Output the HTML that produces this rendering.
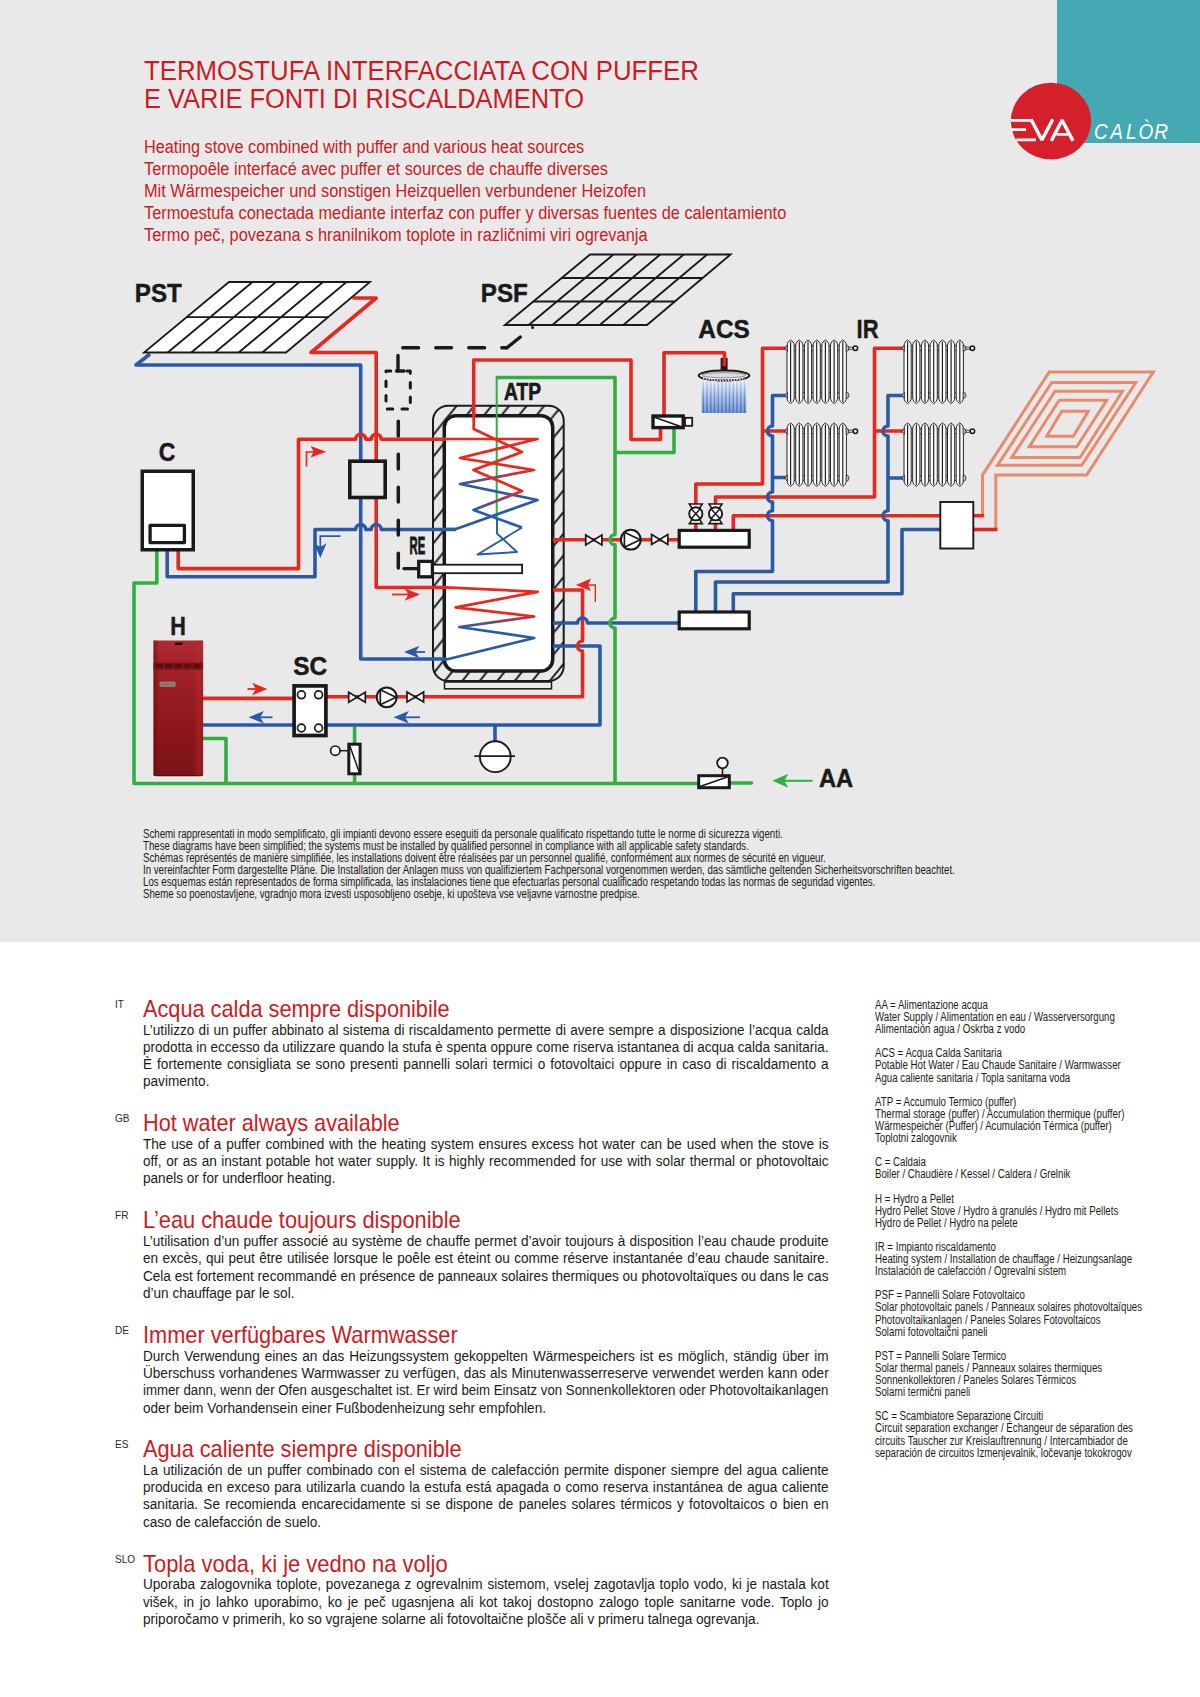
<!DOCTYPE html>
<html><head><meta charset="utf-8"><title>Termostufa interfacciata con puffer</title>
<style>
html,body{margin:0;padding:0;}
body{width:1200px;height:1697px;position:relative;background:#fff;font-family:"Liberation Sans", sans-serif;overflow:hidden;}
.top{position:absolute;left:0;top:0;width:1200px;height:942px;background:#e9e9e9;}
.teal{position:absolute;left:1057px;top:0;width:143px;height:143px;background:#45a9b4;}
.t{position:absolute;white-space:nowrap;line-height:1;transform-origin:0 0;}
svg.d{position:absolute;left:0;top:0;}
</style></head><body>
<div class="top"></div>
<div class="teal"></div>
<svg class="d" width="1200" height="1697" viewBox="0 0 1200 1697" font-family="Liberation Sans, sans-serif">
<defs>
<linearGradient id="gA" x1="0" y1="439" x2="0" y2="529" gradientUnits="userSpaceOnUse"><stop offset="0" stop-color="#e8281f"/><stop offset="0.35" stop-color="#e8281f"/><stop offset="0.5" stop-color="#2a5aa6"/><stop offset="1" stop-color="#2a5aa6"/></linearGradient>
<linearGradient id="gB" x1="0" y1="429" x2="0" y2="555" gradientUnits="userSpaceOnUse"><stop offset="0" stop-color="#e8281f"/><stop offset="0.5" stop-color="#e8281f"/><stop offset="0.64" stop-color="#2a5aa6"/><stop offset="1" stop-color="#2a5aa6"/></linearGradient>
<linearGradient id="gC" x1="0" y1="587" x2="0" y2="659" gradientUnits="userSpaceOnUse"><stop offset="0" stop-color="#e8281f"/><stop offset="0.4" stop-color="#e8281f"/><stop offset="0.55" stop-color="#2a5aa6"/><stop offset="1" stop-color="#2a5aa6"/></linearGradient>
<linearGradient id="gStoveV" x1="0" y1="0" x2="0" y2="1"><stop offset="0" stop-color="#ad2a32"/><stop offset="0.3" stop-color="#9e1f26"/><stop offset="0.65" stop-color="#8c171b"/><stop offset="1" stop-color="#7c1417"/></linearGradient><linearGradient id="gStoveH" x1="0" y1="0" x2="1" y2="0"><stop offset="0" stop-color="#5a0a0e" stop-opacity="0.55"/><stop offset="0.12" stop-color="#5a0a0e" stop-opacity="0"/><stop offset="0.8" stop-color="#c0282c" stop-opacity="0"/><stop offset="0.92" stop-color="#c0282c" stop-opacity="0.45"/><stop offset="1" stop-color="#b02428" stop-opacity="0.3"/></linearGradient>
<linearGradient id="gSpray" x1="0" y1="381" x2="0" y2="413" gradientUnits="userSpaceOnUse"><stop offset="0" stop-color="#eef2fa"/><stop offset="0.5" stop-color="#b4c6e6"/><stop offset="1" stop-color="#7a9cd6"/></linearGradient><linearGradient id="gSpray2" x1="0" y1="381" x2="0" y2="413" gradientUnits="userSpaceOnUse"><stop offset="0" stop-color="#c8d6f0"/><stop offset="0.5" stop-color="#6f93d2"/><stop offset="1" stop-color="#3f6fc0"/></linearGradient>
<pattern id="hatch" width="17.5" height="21.7" patternUnits="userSpaceOnUse" patternTransform="translate(433.7,390.9)"><path d="M-1.75,23.87 L19.25,-2.17 M-1.75,2.17 L1.75,-2.17 M15.75,23.87 L19.25,19.53" stroke="#1a1a1a" stroke-width="2.0"/></pattern>
<clipPath id="tankclip"><rect x="432" y="404" width="134" height="278" rx="18" ry="18"/></clipPath>
</defs>
<rect x="444.5" y="682" width="107" height="6.8" fill="#e9e9e9" stroke="#1a1a1a" stroke-width="1.5"/>
<rect x="433" y="405.7" width="130.7" height="275.3" rx="15" ry="15" fill="#e9e9e9" stroke="none"/>
<rect x="433" y="405.7" width="130.7" height="275.3" rx="15" ry="15" fill="url(#hatch)" stroke="#1a1a1a" stroke-width="2.0"/>
<rect x="444.3" y="415.7" width="108.4" height="255.3" rx="11.5" ry="11.5" fill="#fff" stroke="#1a1a1a" stroke-width="3.5"/>
<path d="M352.5,298 H376.2 L311,352.5 H376.2 V587.5 H446" stroke="#e8281f" stroke-width="3.6" fill="none" stroke-linejoin="round" />
<path d="M150,354 L136,365 H360.7 V659 H446" stroke="#2a5aa6" stroke-width="3.6" fill="none" stroke-linejoin="round" />
<path d="M178.2,551 V568.6 H298.5 V439.2 H355.7 A5.0,5.0 0 0 1 365.7,439.2 H371.2 A5.0,5.0 0 0 1 381.2,439.2 H446" stroke="#e8281f" stroke-width="3.6" fill="none" stroke-linejoin="round" />
<path d="M167.2,551 V576.8 H315 V529.5 H355.7 A5.0,5.0 0 0 1 365.7,529.5 H371.2 A5.0,5.0 0 0 1 381.2,529.5 H456" stroke="#2a5aa6" stroke-width="3.6" fill="none" stroke-linejoin="round" />
<path d="M156.8,551 V583 H134 V783.5 H700" stroke="#30b040" stroke-width="3.6" fill="none" stroke-linejoin="round" />
<path d="M730,783 H751.5" stroke="#30b040" stroke-width="3.6" fill="none" stroke-linejoin="round" stroke-linecap="round"/>
<path d="M203,738.5 H226 V783.5" stroke="#30b040" stroke-width="3.6" fill="none" stroke-linejoin="round" />
<path d="M354.6,725 V744 M354.6,774 V783.5" stroke="#30b040" stroke-width="3.6" fill="none" stroke-linejoin="round" />
<path d="M473.7,416 V360 H631 V439.5 H660.5 V428" stroke="#e8281f" stroke-width="3.6" fill="none" stroke-linejoin="round" />
<path d="M664,415 V352.8 H724.5 V360" stroke="#e8281f" stroke-width="3.6" fill="none" stroke-linejoin="round" />
<path d="M496.7,520 V377.5" stroke="#30b040" stroke-width="2" fill="none" stroke-linejoin="round" />
<path d="M615,452.5 H674 V428" stroke="#30b040" stroke-width="3.6" fill="none" stroke-linejoin="round" />
<path d="M553,539.7 H679" stroke="#e8281f" stroke-width="3.6" fill="none" stroke-linejoin="round" />
<path d="M293,698.4 H203" stroke="#e8281f" stroke-width="3.6" fill="none" stroke-linejoin="round" />
<path d="M553,646 H600 V725 H327" stroke="#2a5aa6" stroke-width="3.6" fill="none" stroke-linejoin="round" />
<path d="M553,590 H582.5 V641.0 A5.0,5.0 0 0 0 582.5,651.0 V696.8 H327" stroke="#e8281f" stroke-width="3.6" fill="none" stroke-linejoin="round" />
<path d="M553,623 H577.5 A5.0,5.0 0 0 1 587.5,623 H679" stroke="#2a5aa6" stroke-width="3.6" fill="none" stroke-linejoin="round" />
<path d="M293,725 H203" stroke="#2a5aa6" stroke-width="3.6" fill="none" stroke-linejoin="round" />
<path d="M495,725 V742" stroke="#2a5aa6" stroke-width="3.6" fill="none" stroke-linejoin="round" />
<path d="M495.7,377.5 H615 V534.7 A5.0,5.0 0 0 0 615,544.7 V618.0 A5.0,5.0 0 0 0 615,628.0 V783.5" stroke="#30b040" stroke-width="3.6" fill="none" stroke-linejoin="round" />
<path d="M695.8,530 V484 H762.5 V348.3 H786 M762.5,431 H786" stroke="#e8281f" stroke-width="3.6" fill="none" stroke-linejoin="round" />
<path d="M715.5,530 V497 H874.5 V348.3 H903 M874.5,431 H903" stroke="#e8281f" stroke-width="3.6" fill="none" stroke-linejoin="round" />
<path d="M733.3,530 V515.7 H940" stroke="#e8281f" stroke-width="3.6" fill="none" stroke-linejoin="round" />
<path d="M695.8,611 V571.5 H772.5 V520.7 A5.0,5.0 0 0 1 772.5,510.70000000000005 V502.0 A5.0,5.0 0 0 1 772.5,492.0 V436.0 A5.0,5.0 0 0 1 772.5,426.0 V395.5 H786 M772.5,477.5 H786" stroke="#2a5aa6" stroke-width="3.6" fill="none" stroke-linejoin="round" />
<path d="M715.5,611 V582 H888 V520.7 A5.0,5.0 0 0 1 888,510.70000000000005 V436.0 A5.0,5.0 0 0 1 888,426.0 V395.5 H903 M888,478 H903" stroke="#2a5aa6" stroke-width="3.6" fill="none" stroke-linejoin="round" />
<path d="M733.3,611 V593.7 H902 V529.5 H940" stroke="#2a5aa6" stroke-width="3.6" fill="none" stroke-linejoin="round" />
<path d="M982.5,514 V475 L1049.2,372 H1153.3 L1086.7,475 H995.8 V528" stroke="#e98a6c" stroke-width="3.0" fill="none" stroke-linejoin="miter" stroke-miterlimit="10"/>
<path d="M1051.7,382.5 L1135.8,382.5 L1081.7,465.3 L997.5,465.3 Z" stroke="#e98a6c" stroke-width="3.0" fill="none" stroke-linejoin="miter"/>
<path d="M1055,391.2 L1122.5,391.2 L1080,457.5 L1011.7,457.5 Z" stroke="#e98a6c" stroke-width="3.0" fill="none" stroke-linejoin="miter"/>
<path d="M1059.2,400.3 L1106.7,400.3 L1076.7,446.7 L1029.2,446.7 Z" stroke="#e98a6c" stroke-width="3.0" fill="none" stroke-linejoin="miter"/>
<path d="M1061.7,411.3 L1088.3,411.3 L1073.3,436.3 L1046.7,436.3 Z" stroke="#e98a6c" stroke-width="3.0" fill="none" stroke-linejoin="miter"/>
<path d="M973,515.7 H984.2" stroke="#e8281f" stroke-width="3.6" fill="none" stroke-linejoin="miter" />
<path d="M973,529.5 H997.5" stroke="#e8281f" stroke-width="3.6" fill="none" stroke-linejoin="miter" />
<path d="M229,282 L370,282 L286,352.5 L144,352.5 Z" fill="#fff" stroke="#1a1a1a" stroke-width="1.8"/>
<path d="M252.5,282 L167.7,352.5 M276.0,282 L191.3,352.5 M299.5,282 L215.0,352.5 M323.0,282 L238.7,352.5 M346.5,282 L262.3,352.5 M186.5,317.2 L328.0,317.2 " stroke="#1a1a1a" stroke-width="1.8" fill="none"/>
<path d="M590,254.5 L730.5,254.5 L647,325 L505,325 Z" fill="none" stroke="#1a1a1a" stroke-width="1.9"/>
<path d="M613.4,254.5 L528.7,325 M636.8,254.5 L552.3,325 M660.2,254.5 L576.0,325 M683.7,254.5 L599.7,325 M707.1,254.5 L623.3,325 M561.7,278.0 L702.7,278.0 M533.3,301.5 L674.8,301.5 " stroke="#1a1a1a" stroke-width="1.9" fill="none"/>
<path d="M532.5,327.5 L532.6,327.5" stroke="#1a1a1a" stroke-width="3" fill="none" stroke-linejoin="round" stroke-linecap="round"/>
<path d="M520.3,337 L507,347.7" stroke="#1a1a1a" stroke-width="3.4" fill="none" stroke-linejoin="round" stroke-linecap="round"/>
<path d="M402.75,347.7 H507" stroke="#1a1a1a" stroke-width="3.4" fill="none" stroke-linejoin="round" stroke-dasharray="15.8,17.2" stroke-linecap="round"/>
<path d="M398,355.5 V371 M396.5,371 H404" stroke="#1a1a1a" stroke-width="3.4" fill="none" stroke-linejoin="round" stroke-linecap="round"/>
<path d="M404,371 H410.3 V409 H386 V371 H392" stroke="#1a1a1a" stroke-width="3" fill="none" stroke-linejoin="round" stroke-dasharray="5.5,9.2" stroke-dashoffset="-3" stroke-linecap="round"/>
<path d="M398.3,421.2 V569" stroke="#1a1a1a" stroke-width="3.5" fill="none" stroke-linejoin="round" stroke-dasharray="14.8,18.2" stroke-linecap="round"/>
<path d="M404,568.6 H417" stroke="#1a1a1a" stroke-width="3.3" fill="none" stroke-linejoin="round" stroke-linecap="round"/>
<rect x="349.8" y="461.2" width="35.4" height="36.3" fill="#e9e9e9" stroke="#1a1a1a" stroke-width="3.6"/>
<rect x="142.25" y="471.25" width="51" height="78.5" fill="#fff" stroke="#1a1a1a" stroke-width="3.5"/>
<rect x="150.1" y="525.4" width="34.3" height="17.2" fill="#fff" stroke="#1a1a1a" stroke-width="3.3" stroke-linejoin="round"/>
<rect x="153.5" y="640.5" width="49.6" height="135" fill="url(#gStoveV)"/>
<rect x="153.5" y="640.5" width="49.6" height="135" fill="url(#gStoveH)"/>
<rect x="175" y="642.6" width="7.6" height="2.3" rx="0.8" fill="#2a080b"/>
<path d="M153.5,649 H203.1" stroke="#b83a40" stroke-width="0.6" opacity="0.7"/>
<rect x="153.5" y="662.6" width="49.6" height="7" fill="#7e161b"/>
<rect x="155.6" y="663.8" width="7.4" height="4.4" fill="#5c0f13"/>
<rect x="165.0" y="663.8" width="7.4" height="4.4" fill="#5c0f13"/>
<rect x="174.4" y="663.8" width="7.4" height="4.4" fill="#5c0f13"/>
<rect x="183.8" y="663.8" width="7.4" height="4.4" fill="#5c0f13"/>
<rect x="193.2" y="663.8" width="7.4" height="4.4" fill="#5c0f13"/>
<rect x="160" y="682" width="15.2" height="4.4" rx="0.8" fill="#7d7a72" stroke="#b9a9a4" stroke-width="0.5"/>
<path d="M154,774.5 L155.5,775.6 H201 L202.6,774.5" stroke="#5a0c10" stroke-width="1.2" fill="none"/>
<rect x="294.1" y="685.9" width="31.8" height="49.6" fill="#fff" stroke="#1a1a1a" stroke-width="3.7"/>
<circle cx="301.4" cy="694.8" r="3.9" fill="#fff" stroke="#1a1a1a" stroke-width="1.7"/>
<circle cx="301.4" cy="728" r="3.9" fill="#fff" stroke="#1a1a1a" stroke-width="1.7"/>
<circle cx="318.6" cy="694.8" r="3.9" fill="#fff" stroke="#1a1a1a" stroke-width="1.7"/>
<circle cx="318.6" cy="728" r="3.9" fill="#fff" stroke="#1a1a1a" stroke-width="1.7"/>
<path d="M348.7,692.3 L365.3,702.3 V692.3 L348.7,702.3 Z" fill="#fff" stroke="#1a1a1a" stroke-width="1.7" stroke-linejoin="miter"/>
<circle cx="386.7" cy="697.3" r="9.9" fill="#fff" stroke="#1a1a1a" stroke-width="2"/>
<path d="M380.3,689.8 L395.99999999999994,697.3 L380.3,704.8 Z" fill="none" stroke="#1a1a1a" stroke-width="1.7" stroke-linejoin="round"/>
<path d="M407.0,692.0 L423.6,702.0 V692.0 L407.0,702.0 Z" fill="#fff" stroke="#1a1a1a" stroke-width="1.7" stroke-linejoin="miter"/>
<rect x="348.8" y="744.2" width="11.3" height="29.6" fill="#fff" stroke="#1a1a1a" stroke-width="3"/>
<path d="M349.5,745 L359.5,773" stroke="#1a1a1a" stroke-width="1.5"/>
<path d="M340,750.7 H348" stroke="#1a1a1a" stroke-width="1.5"/>
<circle cx="335.3" cy="750.7" r="4.7" fill="#fff" stroke="#1a1a1a" stroke-width="1.7"/>
<path d="M445,439 H537.5 L460,458 L534,470 L460,484 L537.5,500 L456,529 H445" stroke="url(#gA)" stroke-width="2.7" fill="none" stroke-linejoin="round" />
<path d="M473.7,415 V429 L522,452 L473.5,470 L522,491 L473.5,510 L522,527.5" stroke="url(#gB)" stroke-width="2.7" fill="none" stroke-linejoin="round" />
<path d="M522,527.5 L477.5,554.5 L517,552 L497,533.5 V518" stroke="#2a5aa6" stroke-width="1.9" fill="none" stroke-linejoin="round" />
<path d="M445,587.3 L537.8,591.8 L455.6,607.3 L534.2,616.5 L459.3,627 L534.2,638 L447.4,659.2 H445" stroke="url(#gC)" stroke-width="2.7" fill="none" stroke-linejoin="round" />
<rect x="432.5" y="564.7" width="89.6" height="8.5" fill="#fff" stroke="#1a1a1a" stroke-width="1.8"/>
<rect x="418.7" y="561.4" width="13.7" height="15.4" fill="#fff" stroke="#1a1a1a" stroke-width="3.3"/>
<path d="M585.6999999999999,535.05 L601.9,544.95 V535.05 L585.6999999999999,544.95 Z" fill="#fff" stroke="#1a1a1a" stroke-width="1.7" stroke-linejoin="miter"/>
<circle cx="630.8" cy="539.7" r="9.9" fill="#fff" stroke="#1a1a1a" stroke-width="2"/>
<path d="M624.4,532.2 L640.0999999999999,539.7 L624.4,547.2 Z" fill="none" stroke="#1a1a1a" stroke-width="1.7" stroke-linejoin="round"/>
<path d="M651.6,534.55 L667.8000000000001,544.45 V534.55 L651.6,544.45 Z" fill="#fff" stroke="#1a1a1a" stroke-width="1.7" stroke-linejoin="miter"/>
<rect x="679.2" y="530.4" width="70" height="16.8" fill="#fff" stroke="#1a1a1a" stroke-width="3.2"/>
<rect x="679.2" y="612" width="70" height="16.8" fill="#fff" stroke="#1a1a1a" stroke-width="3.2"/>
<path d="M689.3,503.99999999999994 H702.3 L689.3,523.5999999999999 H702.3 Z" fill="#fff" stroke="#1a1a1a" stroke-width="1.6"/>
<circle cx="695.8" cy="513.8" r="6.6" fill="#fff" stroke="#1a1a1a" stroke-width="1.9"/>
<path d="M691.1999999999999,508.79999999999995 L700.4,518.8 M700.4,508.79999999999995 L691.1999999999999,518.8" stroke="#1a1a1a" stroke-width="1.5" fill="none"/>
<path d="M709.0,503.99999999999994 H722.0 L709.0,523.5999999999999 H722.0 Z" fill="#fff" stroke="#1a1a1a" stroke-width="1.6"/>
<circle cx="715.5" cy="513.8" r="6.6" fill="#fff" stroke="#1a1a1a" stroke-width="1.9"/>
<path d="M710.9,508.79999999999995 L720.1,518.8 M720.1,508.79999999999995 L710.9,518.8" stroke="#1a1a1a" stroke-width="1.5" fill="none"/>
<rect x="790.6" y="345.90000000000003" width="52.199999999999974" height="4.8" fill="#f2f2f2" stroke="#1a1a1a" stroke-width="0.8"/>
<rect x="790.6" y="392.90000000000003" width="52.199999999999974" height="4.8" fill="#f2f2f2" stroke="#1a1a1a" stroke-width="0.8"/>
<path d="M787.0,346 C787.0,342.5 789.1,340.8 790.6,340 C792.1,340.8 794.2,342.5 794.2,346 V397.5 C794.2,401.0 792.1,402.7 790.6,403.5 C789.1,402.7 787.0,401.0 787.0,397.5 Z" fill="#fbfbfb" stroke="#1a1a1a" stroke-width="0.95"/>
<path d="M790.6,341.5 V402.0" stroke="#1a1a1a" stroke-width="1.15" fill="none"/>
<path d="M795.7,346 C795.7,342.5 797.8000000000001,340.8 799.3000000000001,340 C800.8000000000001,340.8 802.9000000000001,342.5 802.9000000000001,346 V397.5 C802.9000000000001,401.0 800.8000000000001,402.7 799.3000000000001,403.5 C797.8000000000001,402.7 795.7,401.0 795.7,397.5 Z" fill="#fbfbfb" stroke="#1a1a1a" stroke-width="0.95"/>
<path d="M799.3000000000001,341.5 V402.0" stroke="#1a1a1a" stroke-width="1.15" fill="none"/>
<path d="M804.4,346 C804.4,342.5 806.5,340.8 808.0,340 C809.5,340.8 811.6,342.5 811.6,346 V397.5 C811.6,401.0 809.5,402.7 808.0,403.5 C806.5,402.7 804.4,401.0 804.4,397.5 Z" fill="#fbfbfb" stroke="#1a1a1a" stroke-width="0.95"/>
<path d="M808.0,341.5 V402.0" stroke="#1a1a1a" stroke-width="1.15" fill="none"/>
<path d="M813.1,346 C813.1,342.5 815.2,340.8 816.7,340 C818.2,340.8 820.3000000000001,342.5 820.3000000000001,346 V397.5 C820.3000000000001,401.0 818.2,402.7 816.7,403.5 C815.2,402.7 813.1,401.0 813.1,397.5 Z" fill="#fbfbfb" stroke="#1a1a1a" stroke-width="0.95"/>
<path d="M816.7,341.5 V402.0" stroke="#1a1a1a" stroke-width="1.15" fill="none"/>
<path d="M821.8,346 C821.8,342.5 823.9,340.8 825.4,340 C826.9,340.8 829.0,342.5 829.0,346 V397.5 C829.0,401.0 826.9,402.7 825.4,403.5 C823.9,402.7 821.8,401.0 821.8,397.5 Z" fill="#fbfbfb" stroke="#1a1a1a" stroke-width="0.95"/>
<path d="M825.4,341.5 V402.0" stroke="#1a1a1a" stroke-width="1.15" fill="none"/>
<path d="M830.5,346 C830.5,342.5 832.6,340.8 834.1,340 C835.6,340.8 837.7,342.5 837.7,346 V397.5 C837.7,401.0 835.6,402.7 834.1,403.5 C832.6,402.7 830.5,401.0 830.5,397.5 Z" fill="#fbfbfb" stroke="#1a1a1a" stroke-width="0.95"/>
<path d="M834.1,341.5 V402.0" stroke="#1a1a1a" stroke-width="1.15" fill="none"/>
<path d="M839.1999999999999,346 C839.1999999999999,342.5 841.3,340.8 842.8,340 C844.3,340.8 846.4,342.5 846.4,346 V397.5 C846.4,401.0 844.3,402.7 842.8,403.5 C841.3,402.7 839.1999999999999,401.0 839.1999999999999,397.5 Z" fill="#fbfbfb" stroke="#1a1a1a" stroke-width="0.95"/>
<path d="M842.8,341.5 V402.0" stroke="#1a1a1a" stroke-width="1.15" fill="none"/>
<path d="M787.6,345.1 L784.6,348.3 L787.6,351.5 Z" fill="#999" stroke="#1a1a1a" stroke-width="0.6"/>
<path d="M787.6,392.1 L784.6,395.3 L787.6,398.5 Z" fill="#999" stroke="#1a1a1a" stroke-width="0.6"/>
<path d="M846.1,345.1 Q849.0,345.3 849.0,348.3 Q849.0,351.3 846.1,351.5 Z" fill="#bbb" stroke="#1a1a1a" stroke-width="0.7"/>
<path d="M846.1,392.1 Q849.0,392.3 849.0,395.3 Q849.0,398.3 846.1,398.5 Z" fill="#bbb" stroke="#1a1a1a" stroke-width="0.7"/>
<rect x="849.0" y="347.0" width="3.4" height="2.6" fill="#ccc" stroke="#1a1a1a" stroke-width="0.6"/>
<circle cx="855.4" cy="348.3" r="2.2" fill="#f0f0f0" stroke="#1a1a1a" stroke-width="1.5"/>
<rect x="790.6" y="428.90000000000003" width="52.199999999999974" height="4.8" fill="#f2f2f2" stroke="#1a1a1a" stroke-width="0.8"/>
<rect x="790.6" y="475.70000000000005" width="52.199999999999974" height="4.8" fill="#f2f2f2" stroke="#1a1a1a" stroke-width="0.8"/>
<path d="M787.0,429 C787.0,425.5 789.1,423.8 790.6,423 C792.1,423.8 794.2,425.5 794.2,429 V480.3 C794.2,483.8 792.1,485.5 790.6,486.3 C789.1,485.5 787.0,483.8 787.0,480.3 Z" fill="#fbfbfb" stroke="#1a1a1a" stroke-width="0.95"/>
<path d="M790.6,424.5 V484.8" stroke="#1a1a1a" stroke-width="1.15" fill="none"/>
<path d="M795.7,429 C795.7,425.5 797.8000000000001,423.8 799.3000000000001,423 C800.8000000000001,423.8 802.9000000000001,425.5 802.9000000000001,429 V480.3 C802.9000000000001,483.8 800.8000000000001,485.5 799.3000000000001,486.3 C797.8000000000001,485.5 795.7,483.8 795.7,480.3 Z" fill="#fbfbfb" stroke="#1a1a1a" stroke-width="0.95"/>
<path d="M799.3000000000001,424.5 V484.8" stroke="#1a1a1a" stroke-width="1.15" fill="none"/>
<path d="M804.4,429 C804.4,425.5 806.5,423.8 808.0,423 C809.5,423.8 811.6,425.5 811.6,429 V480.3 C811.6,483.8 809.5,485.5 808.0,486.3 C806.5,485.5 804.4,483.8 804.4,480.3 Z" fill="#fbfbfb" stroke="#1a1a1a" stroke-width="0.95"/>
<path d="M808.0,424.5 V484.8" stroke="#1a1a1a" stroke-width="1.15" fill="none"/>
<path d="M813.1,429 C813.1,425.5 815.2,423.8 816.7,423 C818.2,423.8 820.3000000000001,425.5 820.3000000000001,429 V480.3 C820.3000000000001,483.8 818.2,485.5 816.7,486.3 C815.2,485.5 813.1,483.8 813.1,480.3 Z" fill="#fbfbfb" stroke="#1a1a1a" stroke-width="0.95"/>
<path d="M816.7,424.5 V484.8" stroke="#1a1a1a" stroke-width="1.15" fill="none"/>
<path d="M821.8,429 C821.8,425.5 823.9,423.8 825.4,423 C826.9,423.8 829.0,425.5 829.0,429 V480.3 C829.0,483.8 826.9,485.5 825.4,486.3 C823.9,485.5 821.8,483.8 821.8,480.3 Z" fill="#fbfbfb" stroke="#1a1a1a" stroke-width="0.95"/>
<path d="M825.4,424.5 V484.8" stroke="#1a1a1a" stroke-width="1.15" fill="none"/>
<path d="M830.5,429 C830.5,425.5 832.6,423.8 834.1,423 C835.6,423.8 837.7,425.5 837.7,429 V480.3 C837.7,483.8 835.6,485.5 834.1,486.3 C832.6,485.5 830.5,483.8 830.5,480.3 Z" fill="#fbfbfb" stroke="#1a1a1a" stroke-width="0.95"/>
<path d="M834.1,424.5 V484.8" stroke="#1a1a1a" stroke-width="1.15" fill="none"/>
<path d="M839.1999999999999,429 C839.1999999999999,425.5 841.3,423.8 842.8,423 C844.3,423.8 846.4,425.5 846.4,429 V480.3 C846.4,483.8 844.3,485.5 842.8,486.3 C841.3,485.5 839.1999999999999,483.8 839.1999999999999,480.3 Z" fill="#fbfbfb" stroke="#1a1a1a" stroke-width="0.95"/>
<path d="M842.8,424.5 V484.8" stroke="#1a1a1a" stroke-width="1.15" fill="none"/>
<path d="M787.6,428.1 L784.6,431.3 L787.6,434.5 Z" fill="#999" stroke="#1a1a1a" stroke-width="0.6"/>
<path d="M787.6,474.90000000000003 L784.6,478.1 L787.6,481.3 Z" fill="#999" stroke="#1a1a1a" stroke-width="0.6"/>
<path d="M846.1,428.1 Q849.0,428.3 849.0,431.3 Q849.0,434.3 846.1,434.5 Z" fill="#bbb" stroke="#1a1a1a" stroke-width="0.7"/>
<path d="M846.1,474.90000000000003 Q849.0,475.1 849.0,478.1 Q849.0,481.1 846.1,481.3 Z" fill="#bbb" stroke="#1a1a1a" stroke-width="0.7"/>
<rect x="849.0" y="430.0" width="3.4" height="2.6" fill="#ccc" stroke="#1a1a1a" stroke-width="0.6"/>
<circle cx="855.4" cy="431.3" r="2.2" fill="#f0f0f0" stroke="#1a1a1a" stroke-width="1.5"/>
<rect x="907.6" y="345.90000000000003" width="52.199999999999974" height="4.8" fill="#f2f2f2" stroke="#1a1a1a" stroke-width="0.8"/>
<rect x="907.6" y="392.90000000000003" width="52.199999999999974" height="4.8" fill="#f2f2f2" stroke="#1a1a1a" stroke-width="0.8"/>
<path d="M904.0,346 C904.0,342.5 906.1,340.8 907.6,340 C909.1,340.8 911.2,342.5 911.2,346 V397.5 C911.2,401.0 909.1,402.7 907.6,403.5 C906.1,402.7 904.0,401.0 904.0,397.5 Z" fill="#fbfbfb" stroke="#1a1a1a" stroke-width="0.95"/>
<path d="M907.6,341.5 V402.0" stroke="#1a1a1a" stroke-width="1.15" fill="none"/>
<path d="M912.7,346 C912.7,342.5 914.8000000000001,340.8 916.3000000000001,340 C917.8000000000001,340.8 919.9000000000001,342.5 919.9000000000001,346 V397.5 C919.9000000000001,401.0 917.8000000000001,402.7 916.3000000000001,403.5 C914.8000000000001,402.7 912.7,401.0 912.7,397.5 Z" fill="#fbfbfb" stroke="#1a1a1a" stroke-width="0.95"/>
<path d="M916.3000000000001,341.5 V402.0" stroke="#1a1a1a" stroke-width="1.15" fill="none"/>
<path d="M921.4,346 C921.4,342.5 923.5,340.8 925.0,340 C926.5,340.8 928.6,342.5 928.6,346 V397.5 C928.6,401.0 926.5,402.7 925.0,403.5 C923.5,402.7 921.4,401.0 921.4,397.5 Z" fill="#fbfbfb" stroke="#1a1a1a" stroke-width="0.95"/>
<path d="M925.0,341.5 V402.0" stroke="#1a1a1a" stroke-width="1.15" fill="none"/>
<path d="M930.1,346 C930.1,342.5 932.2,340.8 933.7,340 C935.2,340.8 937.3000000000001,342.5 937.3000000000001,346 V397.5 C937.3000000000001,401.0 935.2,402.7 933.7,403.5 C932.2,402.7 930.1,401.0 930.1,397.5 Z" fill="#fbfbfb" stroke="#1a1a1a" stroke-width="0.95"/>
<path d="M933.7,341.5 V402.0" stroke="#1a1a1a" stroke-width="1.15" fill="none"/>
<path d="M938.8,346 C938.8,342.5 940.9,340.8 942.4,340 C943.9,340.8 946.0,342.5 946.0,346 V397.5 C946.0,401.0 943.9,402.7 942.4,403.5 C940.9,402.7 938.8,401.0 938.8,397.5 Z" fill="#fbfbfb" stroke="#1a1a1a" stroke-width="0.95"/>
<path d="M942.4,341.5 V402.0" stroke="#1a1a1a" stroke-width="1.15" fill="none"/>
<path d="M947.5,346 C947.5,342.5 949.6,340.8 951.1,340 C952.6,340.8 954.7,342.5 954.7,346 V397.5 C954.7,401.0 952.6,402.7 951.1,403.5 C949.6,402.7 947.5,401.0 947.5,397.5 Z" fill="#fbfbfb" stroke="#1a1a1a" stroke-width="0.95"/>
<path d="M951.1,341.5 V402.0" stroke="#1a1a1a" stroke-width="1.15" fill="none"/>
<path d="M956.1999999999999,346 C956.1999999999999,342.5 958.3,340.8 959.8,340 C961.3,340.8 963.4,342.5 963.4,346 V397.5 C963.4,401.0 961.3,402.7 959.8,403.5 C958.3,402.7 956.1999999999999,401.0 956.1999999999999,397.5 Z" fill="#fbfbfb" stroke="#1a1a1a" stroke-width="0.95"/>
<path d="M959.8,341.5 V402.0" stroke="#1a1a1a" stroke-width="1.15" fill="none"/>
<path d="M904.6,345.1 L901.6,348.3 L904.6,351.5 Z" fill="#999" stroke="#1a1a1a" stroke-width="0.6"/>
<path d="M904.6,392.1 L901.6,395.3 L904.6,398.5 Z" fill="#999" stroke="#1a1a1a" stroke-width="0.6"/>
<path d="M963.1,345.1 Q966.0,345.3 966.0,348.3 Q966.0,351.3 963.1,351.5 Z" fill="#bbb" stroke="#1a1a1a" stroke-width="0.7"/>
<path d="M963.1,392.1 Q966.0,392.3 966.0,395.3 Q966.0,398.3 963.1,398.5 Z" fill="#bbb" stroke="#1a1a1a" stroke-width="0.7"/>
<rect x="966.0" y="347.0" width="3.4" height="2.6" fill="#ccc" stroke="#1a1a1a" stroke-width="0.6"/>
<circle cx="972.4" cy="348.3" r="2.2" fill="#f0f0f0" stroke="#1a1a1a" stroke-width="1.5"/>
<rect x="907.6" y="428.90000000000003" width="52.199999999999974" height="4.8" fill="#f2f2f2" stroke="#1a1a1a" stroke-width="0.8"/>
<rect x="907.6" y="475.70000000000005" width="52.199999999999974" height="4.8" fill="#f2f2f2" stroke="#1a1a1a" stroke-width="0.8"/>
<path d="M904.0,429 C904.0,425.5 906.1,423.8 907.6,423 C909.1,423.8 911.2,425.5 911.2,429 V480.3 C911.2,483.8 909.1,485.5 907.6,486.3 C906.1,485.5 904.0,483.8 904.0,480.3 Z" fill="#fbfbfb" stroke="#1a1a1a" stroke-width="0.95"/>
<path d="M907.6,424.5 V484.8" stroke="#1a1a1a" stroke-width="1.15" fill="none"/>
<path d="M912.7,429 C912.7,425.5 914.8000000000001,423.8 916.3000000000001,423 C917.8000000000001,423.8 919.9000000000001,425.5 919.9000000000001,429 V480.3 C919.9000000000001,483.8 917.8000000000001,485.5 916.3000000000001,486.3 C914.8000000000001,485.5 912.7,483.8 912.7,480.3 Z" fill="#fbfbfb" stroke="#1a1a1a" stroke-width="0.95"/>
<path d="M916.3000000000001,424.5 V484.8" stroke="#1a1a1a" stroke-width="1.15" fill="none"/>
<path d="M921.4,429 C921.4,425.5 923.5,423.8 925.0,423 C926.5,423.8 928.6,425.5 928.6,429 V480.3 C928.6,483.8 926.5,485.5 925.0,486.3 C923.5,485.5 921.4,483.8 921.4,480.3 Z" fill="#fbfbfb" stroke="#1a1a1a" stroke-width="0.95"/>
<path d="M925.0,424.5 V484.8" stroke="#1a1a1a" stroke-width="1.15" fill="none"/>
<path d="M930.1,429 C930.1,425.5 932.2,423.8 933.7,423 C935.2,423.8 937.3000000000001,425.5 937.3000000000001,429 V480.3 C937.3000000000001,483.8 935.2,485.5 933.7,486.3 C932.2,485.5 930.1,483.8 930.1,480.3 Z" fill="#fbfbfb" stroke="#1a1a1a" stroke-width="0.95"/>
<path d="M933.7,424.5 V484.8" stroke="#1a1a1a" stroke-width="1.15" fill="none"/>
<path d="M938.8,429 C938.8,425.5 940.9,423.8 942.4,423 C943.9,423.8 946.0,425.5 946.0,429 V480.3 C946.0,483.8 943.9,485.5 942.4,486.3 C940.9,485.5 938.8,483.8 938.8,480.3 Z" fill="#fbfbfb" stroke="#1a1a1a" stroke-width="0.95"/>
<path d="M942.4,424.5 V484.8" stroke="#1a1a1a" stroke-width="1.15" fill="none"/>
<path d="M947.5,429 C947.5,425.5 949.6,423.8 951.1,423 C952.6,423.8 954.7,425.5 954.7,429 V480.3 C954.7,483.8 952.6,485.5 951.1,486.3 C949.6,485.5 947.5,483.8 947.5,480.3 Z" fill="#fbfbfb" stroke="#1a1a1a" stroke-width="0.95"/>
<path d="M951.1,424.5 V484.8" stroke="#1a1a1a" stroke-width="1.15" fill="none"/>
<path d="M956.1999999999999,429 C956.1999999999999,425.5 958.3,423.8 959.8,423 C961.3,423.8 963.4,425.5 963.4,429 V480.3 C963.4,483.8 961.3,485.5 959.8,486.3 C958.3,485.5 956.1999999999999,483.8 956.1999999999999,480.3 Z" fill="#fbfbfb" stroke="#1a1a1a" stroke-width="0.95"/>
<path d="M959.8,424.5 V484.8" stroke="#1a1a1a" stroke-width="1.15" fill="none"/>
<path d="M904.6,428.1 L901.6,431.3 L904.6,434.5 Z" fill="#999" stroke="#1a1a1a" stroke-width="0.6"/>
<path d="M904.6,474.90000000000003 L901.6,478.1 L904.6,481.3 Z" fill="#999" stroke="#1a1a1a" stroke-width="0.6"/>
<path d="M963.1,428.1 Q966.0,428.3 966.0,431.3 Q966.0,434.3 963.1,434.5 Z" fill="#bbb" stroke="#1a1a1a" stroke-width="0.7"/>
<path d="M963.1,474.90000000000003 Q966.0,475.1 966.0,478.1 Q966.0,481.1 963.1,481.3 Z" fill="#bbb" stroke="#1a1a1a" stroke-width="0.7"/>
<rect x="966.0" y="430.0" width="3.4" height="2.6" fill="#ccc" stroke="#1a1a1a" stroke-width="0.6"/>
<circle cx="972.4" cy="431.3" r="2.2" fill="#f0f0f0" stroke="#1a1a1a" stroke-width="1.5"/>
<rect x="940.3" y="502" width="33" height="46.5" fill="#fff" stroke="#1a1a1a" stroke-width="1.9"/>
<rect x="685" y="417.8" width="7.2" height="8" fill="#fff" stroke="#1a1a1a" stroke-width="1.8"/>
<rect x="653" y="416" width="30.2" height="11.6" fill="#fff" stroke="#1a1a1a" stroke-width="3.4"/>
<path d="M654.5,417.2 L682,427" stroke="#1a1a1a" stroke-width="1.6"/>
<rect x="720.6" y="358" width="7" height="13" fill="#2e1614"/>
<rect x="722.6" y="357" width="3.4" height="9" fill="#d8281f"/>
<path d="M701.5,381 L746.5,381 L746.3,413 L701.7,413 Z" fill="url(#gSpray)"/>
<path d="M703.3,381 V413 M707.0,381 V413 M710.8,381 V413 M714.5,381 V413 M718.3,381 V413 M722.0,381 V413 M725.8,381 V413 M729.5,381 V413 M733.3,381 V413 M737.0,381 V413 M740.8,381 V413 M744.5,381 V413 " stroke="url(#gSpray2)" stroke-width="1.5" fill="none"/>
<ellipse cx="724" cy="375.6" rx="25.4" ry="5" fill="#f4f4f4" stroke="#1a1a1a" stroke-width="2"/>
<ellipse cx="724" cy="375.2" rx="22" ry="2.6" fill="#dcdcdc" stroke="#555" stroke-width="0.6"/>
<path d="M703,378.2 Q724,383.2 745,378.2" stroke="#fff" stroke-width="1.5" fill="none" stroke-dasharray="1.3,1.5"/>
<circle cx="495.3" cy="756.7" r="15.4" fill="#fff" stroke="#1a1a1a" stroke-width="1.9"/>
<path d="M474.3,756.1 H515" stroke="#1a1a1a" stroke-width="1.6"/>
<rect x="698.7" y="775.7" width="30.6" height="12" fill="#fff" stroke="#1a1a1a" stroke-width="3"/>
<path d="M700,786.6 L728,776.8" stroke="#1a1a1a" stroke-width="1.6"/>
<path d="M722.5,775 V768" stroke="#1a1a1a" stroke-width="1.6"/>
<circle cx="722.5" cy="763" r="5.3" fill="#fff" stroke="#1a1a1a" stroke-width="1.8"/>
<path d="M812.5,780.8 H783" stroke="#30b040" stroke-width="2"/>
<path d="M772.5,780.8 L788.3,773.8 L784.3,780.8 L788.3,787.8 Z" fill="#30b040"/>
<path d="M247.5,689 H259.5" stroke="#e8281f" stroke-width="1.8"/>
<path d="M267.5,689 L252.0,682.7 L256.0,689 L252.0,695.3 Z" fill="#e8281f"/>
<path d="M272.5,717.3 H256.5" stroke="#2a5aa6" stroke-width="1.8"/>
<path d="M248.5,717.3 L264.0,711.0 L260.0,717.3 L264.0,723.5999999999999 Z" fill="#2a5aa6"/>
<path d="M392,594.5 H412" stroke="#e8281f" stroke-width="1.8"/>
<path d="M420,594.5 L404.5,588.2 L408.5,594.5 L404.5,600.8 Z" fill="#e8281f"/>
<path d="M425,652 H412" stroke="#2a5aa6" stroke-width="1.8"/>
<path d="M404,652 L419.5,645.7 L415.5,652 L419.5,658.3 Z" fill="#2a5aa6"/>
<path d="M420,717.3 H401.5" stroke="#2a5aa6" stroke-width="1.8"/>
<path d="M393.5,717.3 L409.0,711.0 L405.0,717.3 L409.0,723.5999999999999 Z" fill="#2a5aa6"/>
<path d="M306.5,466.5 V452 H315" stroke="#e8281f" stroke-width="1.7" fill="none"/>
<path d="M326.3,451.7 L310.6,445.9 L313.6,451.7 L310.6,457.5 Z" fill="#e8281f"/>
<path d="M340.5,536.2 H320.3 V548" stroke="#2a5aa6" stroke-width="1.7" fill="none"/>
<path d="M320.3,558 L314,543.2 L320.3,547 L326.6,543.2 Z" fill="#2a5aa6"/>
<path d="M588,585 H595.3 V602" stroke="#e8281f" stroke-width="1.4" fill="none"/>
<path d="M575.8,585 L591,578.5 L588,585 L591,591 Z" fill="#e8281f"/>
<ellipse cx="1051" cy="121.1" rx="40.2" ry="38.4" fill="#d4202a"/>
<path d="M1011,120.3 H1031.5 M1011.2,129.7 H1026 M1016.3,139.9 H1036" stroke="#fff" stroke-width="2.7" fill="none"/>
<path d="M1031,119.2 L1041.9,140 L1052.8,119.2" stroke="#fff" stroke-width="3.4" fill="none" stroke-linejoin="miter" stroke-miterlimit="1.5"/>
<path d="M1051.2,140.9 L1062.1,120.2 L1073,140.9" stroke="#fff" stroke-width="3.4" fill="none" stroke-linejoin="miter" stroke-miterlimit="1.5"/>
<path d="M1056.4,134.4 H1068" stroke="#fff" stroke-width="2.6"/>
<text x="1094" y="138.6" font-size="22.6" font-style="italic" fill="#fff" transform="translate(1094,0) scale(0.84,1) translate(-1094,0)">C</text>
<text x="1110.3" y="138.6" font-size="22.6" font-style="italic" fill="#fff" transform="translate(1110.3,0) scale(0.84,1) translate(-1110.3,0)">A</text>
<text x="1126" y="138.6" font-size="22.6" font-style="italic" fill="#fff" transform="translate(1126,0) scale(0.84,1) translate(-1126,0)">L</text>
<text x="1138.5" y="138.6" font-size="22.6" font-style="italic" fill="#fff" transform="translate(1138.5,0) scale(0.84,1) translate(-1138.5,0)">Ò</text>
<text x="1154.3" y="138.6" font-size="22.6" font-style="italic" fill="#fff" transform="translate(1154.3,0) scale(0.84,1) translate(-1154.3,0)">R</text>
<text x="134.8" y="302" font-size="25" font-weight="bold" fill="#1a1a1a" stroke="#1a1a1a" stroke-width="0.45" textLength="47" lengthAdjust="spacingAndGlyphs">PST</text>
<text x="480.8" y="302" font-size="25" font-weight="bold" fill="#1a1a1a" stroke="#1a1a1a" stroke-width="0.45" textLength="47" lengthAdjust="spacingAndGlyphs">PSF</text>
<text x="698.3" y="338.3" font-size="25" font-weight="bold" fill="#1a1a1a" stroke="#1a1a1a" stroke-width="0.45" textLength="51.5" lengthAdjust="spacingAndGlyphs">ACS</text>
<text x="856.6" y="338.3" font-size="25" font-weight="bold" fill="#1a1a1a" stroke="#1a1a1a" stroke-width="0.45" textLength="22" lengthAdjust="spacingAndGlyphs">IR</text>
<text x="504" y="400.2" font-size="24" font-weight="bold" fill="#1a1a1a" stroke="#1a1a1a" stroke-width="0.7" textLength="37" lengthAdjust="spacingAndGlyphs">ATP</text>
<text x="158.8" y="461.2" font-size="25" font-weight="bold" fill="#1a1a1a" stroke="#1a1a1a" stroke-width="0.45" textLength="16.6" lengthAdjust="spacingAndGlyphs">C</text>
<text x="170.3" y="635.3" font-size="25" font-weight="bold" fill="#1a1a1a" stroke="#1a1a1a" stroke-width="0.45" textLength="15.6" lengthAdjust="spacingAndGlyphs">H</text>
<text x="293.3" y="675.3" font-size="25" font-weight="bold" fill="#1a1a1a" stroke="#1a1a1a" stroke-width="0.45" textLength="34" lengthAdjust="spacingAndGlyphs">SC</text>
<text x="409.6" y="553.8" font-size="24" font-weight="bold" fill="#1a1a1a" stroke="#1a1a1a" stroke-width="1.0" textLength="15.6" lengthAdjust="spacingAndGlyphs">RE</text>
<text x="818.9" y="786.5" font-size="25" font-weight="bold" fill="#1a1a1a" stroke="#1a1a1a" stroke-width="0.45" textLength="34.3" lengthAdjust="spacingAndGlyphs">AA</text>
</svg>
<div class="t" style="left:143.75px;top:57.61px;font-size:26.8px;color:#c91b25;transform:scaleX(0.9623);">TERMOSTUFA INTERFACCIATA CON PUFFER</div>
<div class="t" style="left:143.75px;top:86.01px;font-size:26.8px;color:#c91b25;transform:scaleX(0.9491);">E VARIE FONTI DI RISCALDAMENTO</div>
<div class="t" style="left:143.50px;top:138.46px;font-size:18px;color:#c91b25;transform:scaleX(0.9041);">Heating stove combined with puffer and various heat sources</div>
<div class="t" style="left:143.50px;top:160.46px;font-size:18px;color:#c91b25;transform:scaleX(0.9087);">Termopoêle interfacé avec puffer et sources de chauffe diverses</div>
<div class="t" style="left:143.50px;top:181.96px;font-size:18px;color:#c91b25;transform:scaleX(0.9073);">Mit Wärmespeicher und sonstigen Heizquellen verbundener Heizofen</div>
<div class="t" style="left:143.50px;top:203.96px;font-size:18px;color:#c91b25;transform:scaleX(0.9083);">Termoestufa conectada mediante interfaz con puffer y diversas fuentes de calentamiento</div>
<div class="t" style="left:143.50px;top:225.96px;font-size:18px;color:#c91b25;transform:scaleX(0.9101);">Termo peč, povezana s hranilnikom toplote in različnimi viri ogrevanja</div>
<div class="t" style="left:143.00px;top:827.54px;font-size:12px;color:#1a1a1a;transform:scaleX(0.8060);">Schemi rappresentati in modo semplificato, gli impianti devono essere eseguiti da personale qualificato rispettando tutte le norme di sicurezza vigenti.</div>
<div class="t" style="left:143.00px;top:839.64px;font-size:12px;color:#1a1a1a;transform:scaleX(0.8060);">These diagrams have been simplified; the systems must be installed by qualified personnel in compliance with all applicable safety standards.</div>
<div class="t" style="left:143.00px;top:851.74px;font-size:12px;color:#1a1a1a;transform:scaleX(0.8060);">Schémas représentés de manière simplifiée, les installations doivent être réalisées par un personnel qualifié, conformément aux normes de sécurité en vigueur.</div>
<div class="t" style="left:143.00px;top:863.84px;font-size:12px;color:#1a1a1a;transform:scaleX(0.8060);">In vereinfachter Form dargestellte Pläne. Die Installation der Anlagen muss von qualifiziertem Fachpersonal vorgenommen werden, das sämtliche geltenden Sicherheitsvorschriften beachtet.</div>
<div class="t" style="left:143.00px;top:875.94px;font-size:12px;color:#1a1a1a;transform:scaleX(0.8060);">Los esquemas están representados de forma simplificada, las instalaciones tiene que efectuarlas personal cualificado respetando todas las normas de seguridad vigentes.</div>
<div class="t" style="left:143.00px;top:888.04px;font-size:12px;color:#1a1a1a;transform:scaleX(0.8060);">Sheme so poenostavljene, vgradnjo mora izvesti usposobljeno osebje, ki upošteva vse veljavne varnostne predpise.</div>
<div class="t" style="left:114.80px;top:998.93px;font-size:11.3px;color:#2a2a2a;transform:scaleX(0.8900);">IT</div>
<div class="t" style="left:143.30px;top:996.95px;font-size:23.8px;color:#c91b25;transform:scaleX(0.9127);">Acqua calda sempre disponibile</div>
<div class="t" style="left:143.30px;top:1021.52px;font-size:15.1px;color:#1a1a1a;transform:scaleX(0.8993);width:762.45px;text-align:justify;text-align-last:justify">L’utilizzo di un puffer abbinato al sistema di riscaldamento permette di avere sempre a disposizione l’acqua calda</div>
<div class="t" style="left:143.30px;top:1038.82px;font-size:15.1px;color:#1a1a1a;transform:scaleX(0.8928);">prodotta in eccesso da utilizzare quando la stufa è spenta oppure come riserva istantanea di acqua calda sanitaria.</div>
<div class="t" style="left:143.30px;top:1056.12px;font-size:15.1px;color:#1a1a1a;transform:scaleX(0.8993);width:762.45px;text-align:justify;text-align-last:justify">È fortemente consigliata se sono presenti pannelli solari termici o fotovoltaici oppure in caso di riscaldamento a</div>
<div class="t" style="left:143.30px;top:1073.42px;font-size:15.1px;color:#1a1a1a;transform:scaleX(0.8993);">pavimento.</div>
<div class="t" style="left:114.80px;top:1113.13px;font-size:11.3px;color:#2a2a2a;transform:scaleX(0.8900);">GB</div>
<div class="t" style="left:143.30px;top:1111.15px;font-size:23.8px;color:#c91b25;transform:scaleX(0.9110);">Hot water always available</div>
<div class="t" style="left:143.30px;top:1135.72px;font-size:15.1px;color:#1a1a1a;transform:scaleX(0.8993);width:762.45px;text-align:justify;text-align-last:justify">The use of a puffer combined with the heating system ensures excess hot water can be used when the stove is</div>
<div class="t" style="left:143.30px;top:1153.02px;font-size:15.1px;color:#1a1a1a;transform:scaleX(0.8993);width:762.45px;text-align:justify;text-align-last:justify">off, or as an instant potable hot water supply. It is highly recommended for use with solar thermal or photovoltaic</div>
<div class="t" style="left:143.30px;top:1170.32px;font-size:15.1px;color:#1a1a1a;transform:scaleX(0.8993);">panels or for underfloor heating.</div>
<div class="t" style="left:114.80px;top:1210.43px;font-size:11.3px;color:#2a2a2a;transform:scaleX(0.8900);">FR</div>
<div class="t" style="left:143.30px;top:1208.45px;font-size:23.8px;color:#c91b25;transform:scaleX(0.9164);">L’eau chaude toujours disponible</div>
<div class="t" style="left:143.30px;top:1233.02px;font-size:15.1px;color:#1a1a1a;transform:scaleX(0.8993);width:762.45px;text-align:justify;text-align-last:justify">L’utilisation d’un puffer associé au système de chauffe permet d’avoir toujours à disposition l’eau chaude produite</div>
<div class="t" style="left:143.30px;top:1250.32px;font-size:15.1px;color:#1a1a1a;transform:scaleX(0.8993);width:762.45px;text-align:justify;text-align-last:justify">en excès, qui peut être utilisée lorsque le poêle est éteint ou comme réserve instantanée d’eau chaude sanitaire.</div>
<div class="t" style="left:143.30px;top:1267.62px;font-size:15.1px;color:#1a1a1a;transform:scaleX(0.8987);">Cela est fortement recommandé en présence de panneaux solaires thermiques ou photovoltaïques ou dans le cas</div>
<div class="t" style="left:143.30px;top:1284.92px;font-size:15.1px;color:#1a1a1a;transform:scaleX(0.8993);">d’un chauffage par le sol.</div>
<div class="t" style="left:114.80px;top:1325.13px;font-size:11.3px;color:#2a2a2a;transform:scaleX(0.8900);">DE</div>
<div class="t" style="left:143.30px;top:1323.15px;font-size:23.8px;color:#c91b25;transform:scaleX(0.9141);">Immer verfügbares Warmwasser</div>
<div class="t" style="left:143.30px;top:1347.72px;font-size:15.1px;color:#1a1a1a;transform:scaleX(0.8993);width:762.45px;text-align:justify;text-align-last:justify">Durch Verwendung eines an das Heizungssystem gekoppelten Wärmespeichers ist es möglich, ständig über im</div>
<div class="t" style="left:143.30px;top:1365.02px;font-size:15.1px;color:#1a1a1a;transform:scaleX(0.8993);width:762.45px;text-align:justify;text-align-last:justify">Überschuss vorhandenes Warmwasser zu verfügen, das als Minutenwasserreserve verwendet werden kann oder</div>
<div class="t" style="left:143.30px;top:1382.32px;font-size:15.1px;color:#1a1a1a;transform:scaleX(0.8765);">immer dann, wenn der Ofen ausgeschaltet ist. Er wird beim Einsatz von Sonnenkollektoren oder Photovoltaikanlagen</div>
<div class="t" style="left:143.30px;top:1399.62px;font-size:15.1px;color:#1a1a1a;transform:scaleX(0.8993);">oder beim Vorhandensein einer Fußbodenheizung sehr empfohlen.</div>
<div class="t" style="left:114.80px;top:1439.13px;font-size:11.3px;color:#2a2a2a;transform:scaleX(0.8900);">ES</div>
<div class="t" style="left:143.30px;top:1437.15px;font-size:23.8px;color:#c91b25;transform:scaleX(0.9124);">Agua caliente siempre disponible</div>
<div class="t" style="left:143.30px;top:1461.72px;font-size:15.1px;color:#1a1a1a;transform:scaleX(0.8993);width:762.45px;text-align:justify;text-align-last:justify">La utilización de un puffer combinado con el sistema de calefacción permite disponer siempre del agua caliente</div>
<div class="t" style="left:143.30px;top:1479.02px;font-size:15.1px;color:#1a1a1a;transform:scaleX(0.8993);width:762.45px;text-align:justify;text-align-last:justify">producida en exceso para utilizarla cuando la estufa está apagada o como reserva instantánea de agua caliente</div>
<div class="t" style="left:143.30px;top:1496.32px;font-size:15.1px;color:#1a1a1a;transform:scaleX(0.8993);width:762.45px;text-align:justify;text-align-last:justify">sanitaria. Se recomienda encarecidamente si se dispone de paneles solares térmicos y fotovoltaicos o bien en</div>
<div class="t" style="left:143.30px;top:1513.62px;font-size:15.1px;color:#1a1a1a;transform:scaleX(0.8993);">caso de calefacción de suelo.</div>
<div class="t" style="left:114.80px;top:1553.63px;font-size:11.3px;color:#2a2a2a;transform:scaleX(0.8900);">SLO</div>
<div class="t" style="left:143.30px;top:1551.65px;font-size:23.8px;color:#c91b25;transform:scaleX(0.9212);">Topla voda, ki je vedno na voljo</div>
<div class="t" style="left:143.30px;top:1576.22px;font-size:15.1px;color:#1a1a1a;transform:scaleX(0.8993);width:762.45px;text-align:justify;text-align-last:justify">Uporaba zalogovnika toplote, povezanega z ogrevalnim sistemom, vselej zagotavlja toplo vodo, ki je nastala kot</div>
<div class="t" style="left:143.30px;top:1593.52px;font-size:15.1px;color:#1a1a1a;transform:scaleX(0.8993);width:762.45px;text-align:justify;text-align-last:justify">višek, in jo lahko uporabimo, ko je peč ugasnjena ali kot takoj dostopno zalogo tople sanitarne vode. Toplo jo</div>
<div class="t" style="left:143.30px;top:1610.82px;font-size:15.1px;color:#1a1a1a;transform:scaleX(0.8993);">priporočamo v primerih, ko so vgrajene solarne ali fotovoltaične plošče ali v primeru talnega ogrevanja.</div>
<div class="t" style="left:874.70px;top:998.94px;font-size:12px;color:#1a1a1a;transform:scaleX(0.8070);">AA = Alimentazione acqua</div>
<div class="t" style="left:874.70px;top:1011.04px;font-size:12px;color:#1a1a1a;transform:scaleX(0.8070);">Water Supply / Alimentation en eau / Wasserversorgung</div>
<div class="t" style="left:874.70px;top:1023.14px;font-size:12px;color:#1a1a1a;transform:scaleX(0.8070);">Alimentación agua / Oskrba z vodo</div>
<div class="t" style="left:874.70px;top:1047.34px;font-size:12px;color:#1a1a1a;transform:scaleX(0.8070);">ACS = Acqua Calda Sanitaria</div>
<div class="t" style="left:874.70px;top:1059.44px;font-size:12px;color:#1a1a1a;transform:scaleX(0.8070);">Potable Hot Water / Eau Chaude Sanitaire / Warmwasser</div>
<div class="t" style="left:874.70px;top:1071.54px;font-size:12px;color:#1a1a1a;transform:scaleX(0.8070);">Agua caliente sanitaria / Topla sanitarna voda</div>
<div class="t" style="left:874.70px;top:1095.74px;font-size:12px;color:#1a1a1a;transform:scaleX(0.8070);">ATP = Accumulo Termico (puffer)</div>
<div class="t" style="left:874.70px;top:1107.84px;font-size:12px;color:#1a1a1a;transform:scaleX(0.8070);">Thermal storage (puffer) / Accumulation thermique (puffer)</div>
<div class="t" style="left:874.70px;top:1119.94px;font-size:12px;color:#1a1a1a;transform:scaleX(0.8070);">Wärmespeicher (Puffer) / Acumulación Térmica (puffer)</div>
<div class="t" style="left:874.70px;top:1132.04px;font-size:12px;color:#1a1a1a;transform:scaleX(0.8070);">Toplotni zalogovnik</div>
<div class="t" style="left:874.70px;top:1156.24px;font-size:12px;color:#1a1a1a;transform:scaleX(0.8070);">C = Caldaia</div>
<div class="t" style="left:874.70px;top:1168.34px;font-size:12px;color:#1a1a1a;transform:scaleX(0.8070);">Boiler / Chaudière / Kessel / Caldera / Grelnik</div>
<div class="t" style="left:874.70px;top:1192.54px;font-size:12px;color:#1a1a1a;transform:scaleX(0.8070);">H = Hydro a Pellet</div>
<div class="t" style="left:874.70px;top:1204.64px;font-size:12px;color:#1a1a1a;transform:scaleX(0.8070);">Hydro Pellet Stove / Hydro à granulés / Hydro mit Pellets</div>
<div class="t" style="left:874.70px;top:1216.74px;font-size:12px;color:#1a1a1a;transform:scaleX(0.8070);">Hydro de Pellet / Hydro na pelete</div>
<div class="t" style="left:874.70px;top:1240.94px;font-size:12px;color:#1a1a1a;transform:scaleX(0.8070);">IR = Impianto riscaldamento</div>
<div class="t" style="left:874.70px;top:1253.04px;font-size:12px;color:#1a1a1a;transform:scaleX(0.8070);">Heating system / Installation de chauffage / Heizungsanlage</div>
<div class="t" style="left:874.70px;top:1265.14px;font-size:12px;color:#1a1a1a;transform:scaleX(0.8070);">Instalación de calefacción / Ogrevalni sistem</div>
<div class="t" style="left:874.70px;top:1289.34px;font-size:12px;color:#1a1a1a;transform:scaleX(0.8070);">PSF = Pannelli Solare Fotovoltaico</div>
<div class="t" style="left:874.70px;top:1301.44px;font-size:12px;color:#1a1a1a;transform:scaleX(0.8070);">Solar photovoltaic panels / Panneaux solaires photovoltaïques</div>
<div class="t" style="left:874.70px;top:1313.54px;font-size:12px;color:#1a1a1a;transform:scaleX(0.8070);">Photovoltaikanlagen / Paneles Solares Fotovoltaicos</div>
<div class="t" style="left:874.70px;top:1325.64px;font-size:12px;color:#1a1a1a;transform:scaleX(0.8070);">Solarni fotovoltaični paneli</div>
<div class="t" style="left:874.70px;top:1349.84px;font-size:12px;color:#1a1a1a;transform:scaleX(0.8070);">PST = Pannelli Solare Termico</div>
<div class="t" style="left:874.70px;top:1361.94px;font-size:12px;color:#1a1a1a;transform:scaleX(0.8070);">Solar thermal panels / Panneaux solaires thermiques</div>
<div class="t" style="left:874.70px;top:1374.04px;font-size:12px;color:#1a1a1a;transform:scaleX(0.8070);">Sonnenkollektoren / Paneles Solares Térmicos</div>
<div class="t" style="left:874.70px;top:1386.14px;font-size:12px;color:#1a1a1a;transform:scaleX(0.8070);">Solarni termični paneli</div>
<div class="t" style="left:874.70px;top:1410.34px;font-size:12px;color:#1a1a1a;transform:scaleX(0.8070);">SC = Scambiatore Separazione Circuiti</div>
<div class="t" style="left:874.70px;top:1422.44px;font-size:12px;color:#1a1a1a;transform:scaleX(0.8070);">Circuit separation exchanger / Échangeur de séparation des</div>
<div class="t" style="left:874.70px;top:1434.54px;font-size:12px;color:#1a1a1a;transform:scaleX(0.8070);">circuits Tauscher zur Kreislauftrennung / Intercambiador de</div>
<div class="t" style="left:874.70px;top:1446.64px;font-size:12px;color:#1a1a1a;transform:scaleX(0.8070);">separación de circuitos Izmenjevalnik, ločevanje tokokrogov</div>
</body></html>
